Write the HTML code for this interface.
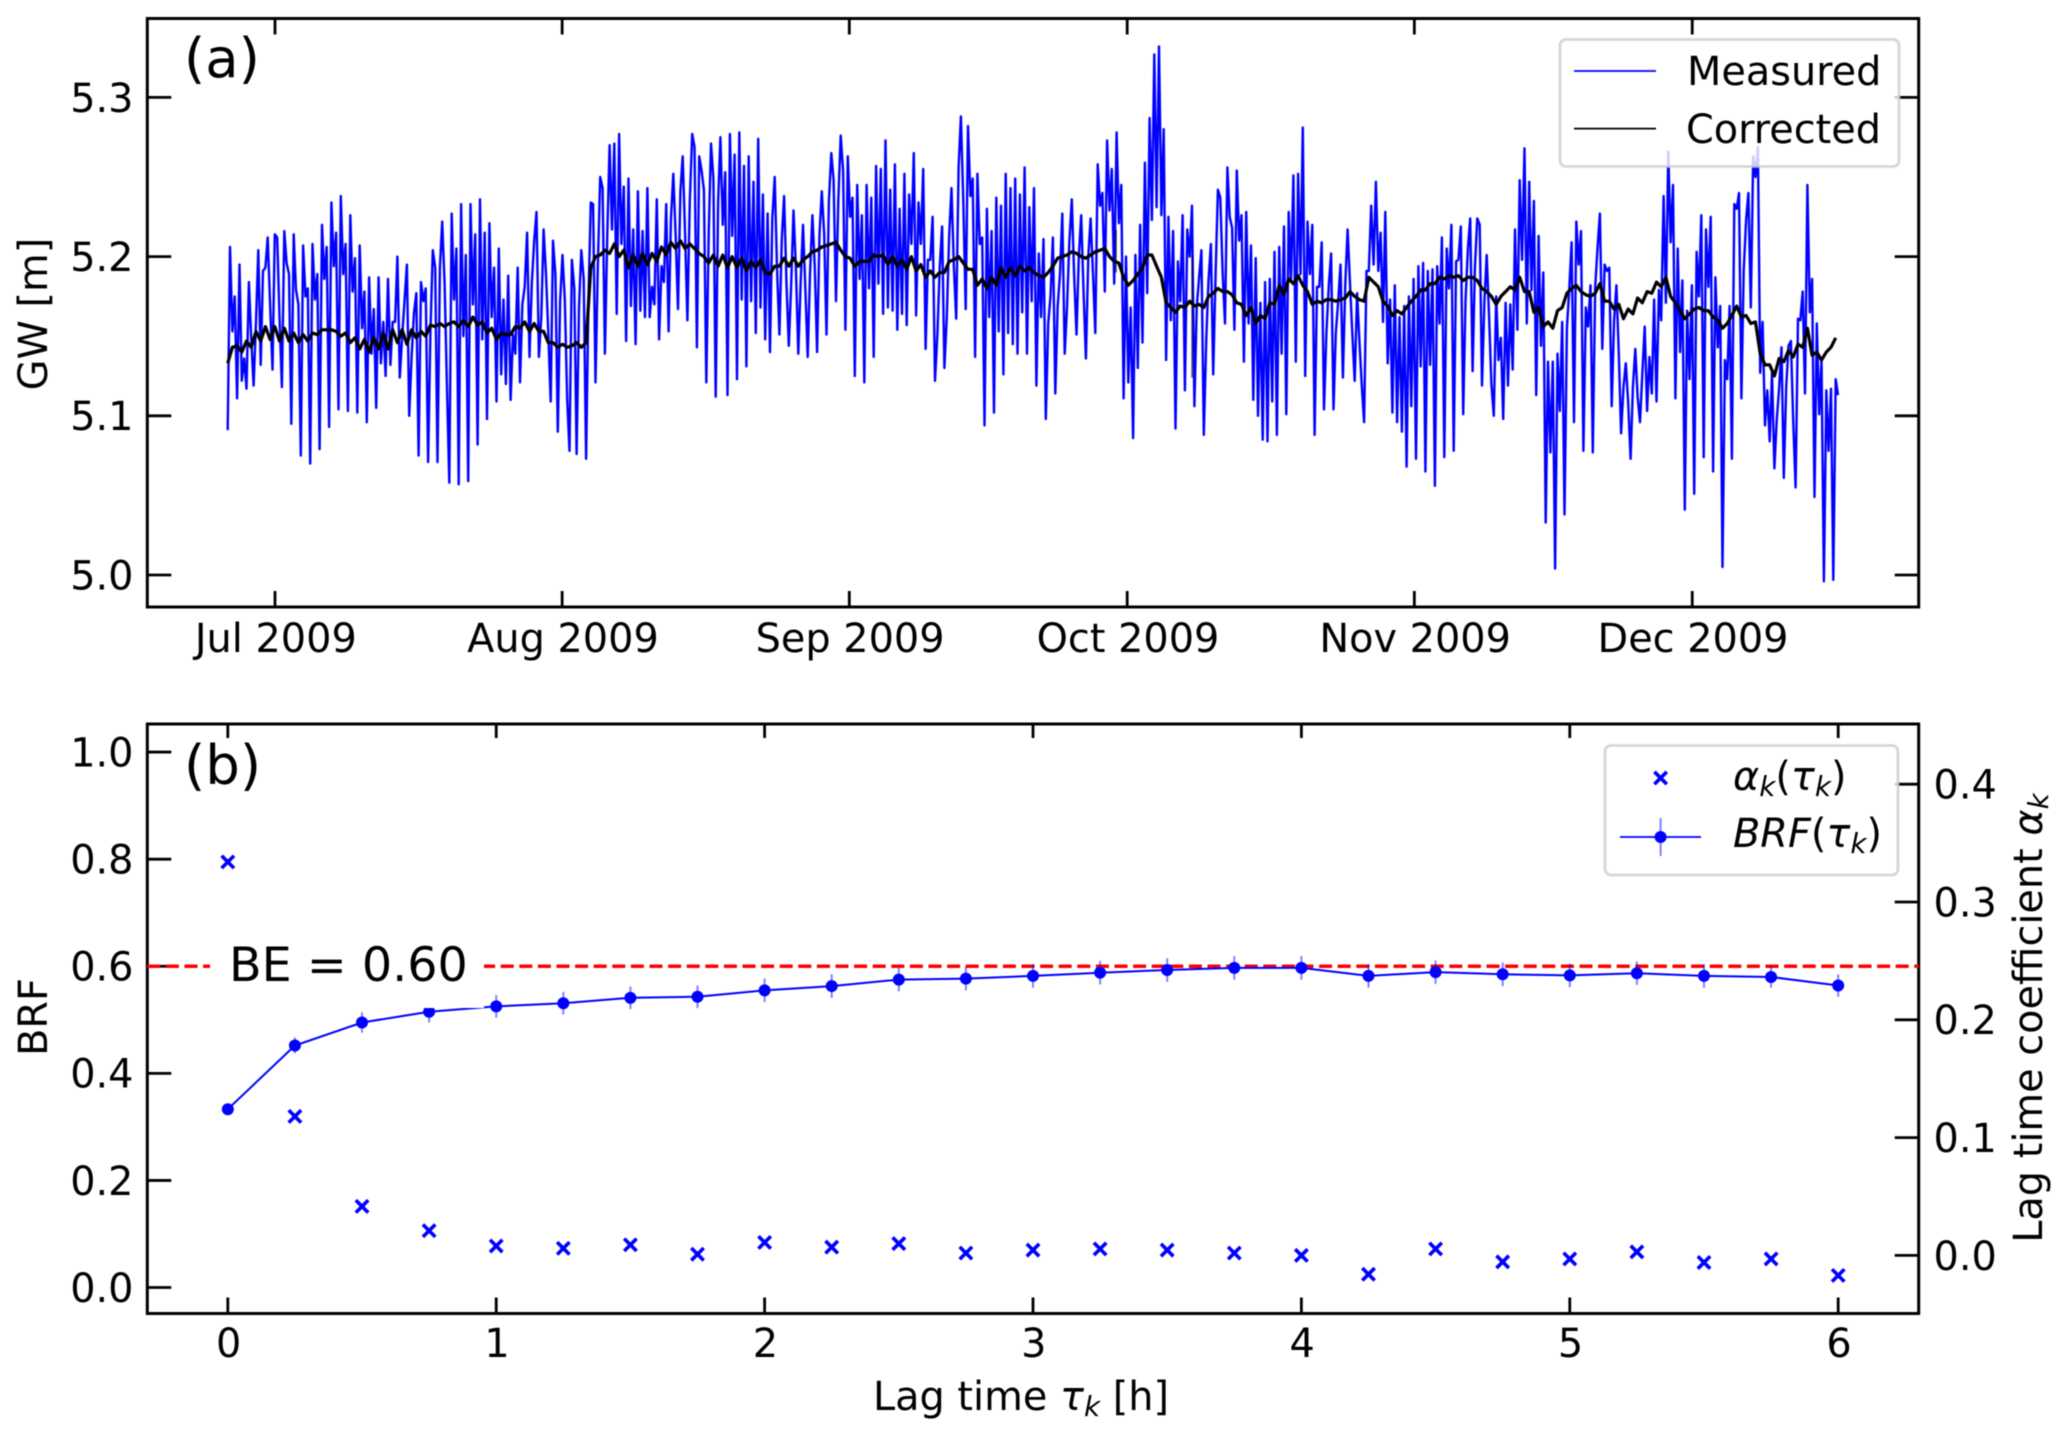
<!DOCTYPE html>
<html lang="en">
<head>
<meta charset="utf-8">
<title>Groundwater level and barometric response function</title>
<style>
html,body{margin:0;padding:0;background:#fff;}
svg{display:block;filter:blur(0.5px);}
text{font-family:"DejaVu Sans","Liberation Sans",sans-serif;fill:#000;}
</style>
</head>
<body>
<svg id="figure" xmlns="http://www.w3.org/2000/svg" width="2067" height="1438" viewBox="0 0 2067 1438"></svg>
<script>
// ---- Panel (a) data: groundwater level, millimetres above 5 m, one sample per step ----
const startDay = -5.11;            // days relative to 1 Jul 2009
const measuredStepDays = 0.25454;
const measuredMm = [
91,206,153,175,111,195,122,136,117,184,149,119,159,204,132,191,193,212,170,129,
214,212,162,118,216,196,189,95,214,179,170,75,207,175,180,70,208,173,189,79,
220,186,206,93,234,194,215,104,238,189,208,103,226,178,199,102,207,155,178,96,
187,139,167,105,187,133,159,125,186,132,159,159,200,124,149,172,195,100,137,164,
177,75,184,172,180,71,152,204,193,71,193,222,183,120,58,227,173,205,57,233,
150,201,59,233,170,214,82,236,148,215,98,221,162,193,109,205,126,173,120,188,
110,151,139,193,121,170,181,215,137,183,210,228,137,162,217,189,152,109,210,189,
90,172,201,173,110,78,198,180,76,168,204,186,73,172,234,233,121,193,250,243,
139,214,270,217,271,164,277,208,244,147,249,169,217,145,241,166,216,162,243,162,
181,170,236,148,194,184,233,153,223,252,214,167,241,263,214,160,235,277,269,143,
263,254,242,121,214,271,249,112,234,275,220,253,113,277,213,264,123,278,173,257,
131,263,172,247,152,274,168,239,148,227,140,224,250,193,151,211,238,183,144,183,
229,193,139,183,220,181,137,189,226,193,140,214,241,214,151,235,265,248,172,235,
276,254,154,263,225,237,125,245,186,226,121,245,180,237,137,257,183,255,164,273,
168,242,166,258,154,230,164,252,157,239,208,265,163,234,208,255,142,198,198,225,
122,151,193,219,130,162,214,243,193,161,256,288,235,167,282,238,249,137,252,208,
212,94,230,162,216,102,237,153,232,126,252,152,243,145,249,139,239,165,256,139,
231,172,243,119,202,162,211,98,158,175,212,114,168,189,227,139,168,210,236,189,
151,200,226,179,136,200,224,189,152,258,232,240,178,273,229,255,183,278,221,245,
111,200,121,168,86,201,130,220,146,259,177,287,223,327,231,332,226,280,135,225,
160,216,92,197,172,226,116,217,200,232,106,168,187,204,88,147,185,208,126,189,
242,237,189,158,256,225,218,154,254,210,226,134,228,158,207,110,199,100,171,85,
184,84,186,109,203,88,206,139,219,101,228,185,251,134,252,189,281,125,222,189,
220,88,181,181,209,104,152,182,202,104,152,172,195,124,183,217,183,152,122,177,
147,119,96,191,191,232,195,247,191,215,159,228,133,173,102,182,96,162,90,169,
68,175,106,186,73,194,131,196,65,191,132,192,56,194,158,212,74,205,180,220,
78,197,198,219,101,172,205,224,128,193,224,220,119,172,201,162,120,100,175,135,
149,98,171,119,170,129,217,154,248,198,268,158,247,179,235,113,213,144,190,33,
134,77,134,4,139,103,159,38,155,180,209,96,222,195,216,78,168,156,182,77,
181,206,227,142,195,191,193,106,160,182,139,89,118,133,108,73,118,142,112,96,
126,156,103,137,114,173,109,179,160,238,171,266,209,245,111,205,140,185,41,166,
123,182,51,203,175,226,74,217,181,225,65,187,143,169,5,135,123,169,73,233,
230,240,111,191,223,240,168,263,250,269,127,159,94,116,84,127,67,97,117,143,
61,118,144,147,97,55,161,160,178,114,245,165,186,49,158,101,135,-4,116,78,
117,-3,123,113
];
const correctedStepDays = 0.50908;
const correctedMm = [
133,143,144,140,147,143,153,147,156,148,156,147,155,147,152,146,151,147,152,151,
154,154,154,153,150,152,146,149,142,148,140,149,142,152,142,154,146,154,145,154,
149,153,150,157,156,158,156,158,159,156,160,156,162,157,159,152,155,148,152,151,
151,156,155,159,153,158,153,153,146,146,143,145,143,144,146,143,146,193,200,201,
204,202,208,200,204,193,201,194,202,195,202,197,206,201,209,205,210,205,208,205,
202,200,196,201,194,201,193,200,193,199,191,197,193,198,190,189,194,194,199,194,
199,194,198,200,203,204,206,207,208,209,204,200,199,194,197,197,197,201,200,201,
195,200,194,198,192,200,191,195,187,191,187,190,190,197,198,200,196,192,192,182,
186,180,187,182,193,187,193,188,194,191,193,190,188,187,190,194,199,200,201,203,
202,200,199,201,203,204,205,200,197,196,187,182,185,189,193,201,201,194,187,171,
168,165,169,168,172,169,170,168,175,177,180,178,178,176,171,170,163,168,158,163,
161,171,170,182,176,186,183,188,182,178,170,172,171,173,173,172,173,174,178,175,
173,172,187,184,181,172,169,163,166,164,168,172,175,179,179,183,183,187,186,188,
187,188,185,187,187,185,180,178,175,170,175,178,181,179,187,178,178,165,168,156,
159,155,166,168,177,180,182,178,176,175,177,183,172,172,167,170,161,167,164,174,
171,178,177,184,181,187,175,171,166,161,164,167,168,166,166,162,160,155,158,163,
169,162,163,158,159,139,132,132,125,136,134,141,137,145,143,155,138,140,135,140,
143,149
];
const correctedSpikeDays = [90.8, 99.0];
const correctedSpikeHighMm = [217, 201];
const correctedSpikeLowMm = [190, 124];
const monthTickDays = [0, 31, 62, 92, 123, 153];
const monthTickLabels = ["Jul 2009", "Aug 2009", "Sep 2009", "Oct 2009", "Nov 2009", "Dec 2009"];
const gwTicks = [5.0, 5.1, 5.2, 5.3];
const gwTickLabels = ["5.0", "5.1", "5.2", "5.3"];

// ---- Panel (b) data ----
const lagHours = [0,0.25,0.5,0.75,1,1.25,1.5,1.75,2,2.25,2.5,2.75,3,3.25,3.5,3.75,4,4.25,4.5,4.75,5,5.25,5.5,5.75,6];
const alphaValues = [0.334,0.118,0.0416,0.021,0.008,0.006,0.009,0.001,0.011,0.007,0.010,0.002,0.0045,0.0055,0.0045,0.002,0,-0.016,0.0055,-0.0055,-0.003,0.003,-0.006,-0.003,-0.017];
const brfValues = [0.333,0.452,0.495,0.515,0.525,0.531,0.541,0.543,0.555,0.563,0.575,0.577,0.582,0.588,0.593,0.597,0.597,0.582,0.589,0.585,0.583,0.587,0.582,0.580,0.564];
const brfErrors = [0.006,0.015,0.019,0.020,0.021,0.021,0.021,0.021,0.022,0.022,0.022,0.022,0.022,0.022,0.022,0.022,0.022,0.022,0.022,0.022,0.022,0.022,0.022,0.020,0.021];
const bodyEfficiency = 0.60;
const lagTicks = [0, 1, 2, 3, 4, 5, 6];
const lagTickLabels = ["0", "1", "2", "3", "4", "5", "6"];
const brfTicks = [0, 0.2, 0.4, 0.6, 0.8, 1.0];
const brfTickLabels = ["0.0", "0.2", "0.4", "0.6", "0.8", "1.0"];
const alphaTicks = [0, 0.1, 0.2, 0.3, 0.4];
const alphaTickLabels = ["0.0", "0.1", "0.2", "0.3", "0.4"];

// ---- Layout and scales ----
const svgNS = "http://www.w3.org/2000/svg";
const root = document.getElementById("figure");
const L = 147.3, R = 1918.7, aTop = 18.5, aBot = 607, bTop = 724, bBot = 1313.5;
const TICK = 24, XTICK = 16, FS = 39.8, BLUE = "#0000ff";
const xDay = d => 275 + 9.263 * d;
const yGw = v => 575 - (v - 5) * 1592;
const xLag = v => L + (v + 0.3) * (R - L) / 6.6;
const yBrf = v => 1314.3 - (v + 0.05) * 535.45;
const yAlpha = v => 1314.3 - (v + 0.05) * 1178;

function mk(parent, tag, attrs, content) {
  const el = document.createElementNS(svgNS, tag);
  for (const k in attrs) el.setAttribute(k, attrs[k]);
  if (content !== undefined) el.textContent = content;
  parent.appendChild(el);
  return el;
}
function group(name) {
  const g = mk(root, "g", {});
  
  
  return g;
}
function tick(parent, name, x1, y1, x2, y2) {
  const el = mk(parent, "line", {x1, y1, x2, y2, stroke: "#000", "stroke-width": 2.8});
  
  
}
function label(parent, name, x, y, anchor, str) {
  const el = mk(parent, "text", {x, y, "text-anchor": anchor, "font-size": FS}, str);
  
  
  return el;
}
function addRuns(textEl, runs) {
  runs.forEach(r => {
    const t = mk(textEl, "tspan", {}, r.t);
    if (r.i) t.setAttribute("font-style", "italic");
    if (r.sub) { t.setAttribute("font-size", FS * 0.7); t.setAttribute("dy", 6); }
    if (r.up) t.setAttribute("dy", -6);
  });
}

// ---- Panel (a) ----
const panelA = group("panel-a-groundwater");

const measuredPts = measuredMm.map((m, i) => xDay(startDay + i * measuredStepDays).toFixed(1) + "," + yGw(5 + m / 1000).toFixed(1)).join(" ");
const measuredLine = mk(panelA, "polyline", {points: measuredPts, fill: "none", stroke: BLUE, "stroke-width": 2.4, "stroke-linejoin": "round"});



const correctedPts = correctedMm.map((m, i) => xDay(startDay + i * correctedStepDays).toFixed(1) + "," + yGw(5 + m / 1000).toFixed(1)).join(" ");
const correctedLine = mk(panelA, "polyline", {points: correctedPts, fill: "none", stroke: "#000", "stroke-width": 3.2, "stroke-linejoin": "round"});



correctedSpikeDays.forEach((d, i) => {
  const s = mk(panelA, "line", {x1: xDay(d), x2: xDay(d), y1: yGw(5 + correctedSpikeHighMm[i] / 1000), y2: yGw(5 + correctedSpikeLowMm[i] / 1000), stroke: "#000", "stroke-opacity": 0.7, "stroke-width": 1.4});
  
  
});

const frameA = mk(panelA, "rect", {x: L, y: aTop, width: R - L, height: aBot - aTop, fill: "none", stroke: "#000", "stroke-width": 3});



monthTickDays.forEach((d, i) => {
  const x = xDay(d);
  tick(panelA, "x-tick-bottom", x, aBot, x, aBot - XTICK);
  tick(panelA, "x-tick-top", x, aTop, x, aTop + XTICK);
  label(panelA, "x-tick-label", x + 0.8, 652, "middle", monthTickLabels[i]);
});
gwTicks.forEach((v, i) => {
  const y = yGw(v);
  tick(panelA, "y-tick-left", L, y, L + TICK, y);
  tick(panelA, "y-tick-right", R, y, R - TICK, y);
  label(panelA, "y-tick-label", 133.5, y + 14.4, "end", gwTickLabels[i]);
});

const gwTitle = label(panelA, "y-axis-title", 0, 0, "middle", "GW [m]");
gwTitle.setAttribute("transform", "translate(47,314) rotate(-90)");

const tagA = mk(panelA, "text", {x: 184, y: 77, "font-size": 54.5}, "(a)");



const legendA = mk(panelA, "g", {});


const legendABox = mk(legendA, "rect", {x: 1560, y: 39.5, width: 339, height: 127, rx: 6, fill: "rgba(255,255,255,0.8)", stroke: "rgba(204,204,204,0.8)", "stroke-width": 2.8});


const legendMeasuredLine = mk(legendA, "line", {x1: 1574, x2: 1656, y1: 71, y2: 71, stroke: BLUE, "stroke-width": 1.8});


label(legendA, "legend-measured-label", 1687, 85, "start", "Measured");
const legendCorrectedLine = mk(legendA, "line", {x1: 1574, x2: 1656, y1: 128.6, y2: 128.6, stroke: "#000", "stroke-width": 1.8});


label(legendA, "legend-corrected-label", 1686, 143, "start", "Corrected");

// ---- Panel (b) ----
const panelB = group("panel-b-brf");

function drawCross(parent, cx, cy, name) {
  const r = 6.2;
  const p = mk(parent, "path", {d: `M${cx - r} ${cy - r}L${cx + r} ${cy + r}M${cx - r} ${cy + r}L${cx + r} ${cy - r}`, stroke: BLUE, "stroke-width": 3.6, fill: "none"});
  
  
}

const frameB = mk(panelB, "rect", {x: L, y: bTop, width: R - L, height: bBot - bTop, fill: "none", stroke: "#000", "stroke-width": 3});



lagTicks.forEach((v, i) => {
  const x = xLag(v);
  tick(panelB, "lag-tick-bottom", x, bBot, x, bBot - XTICK);
  tick(panelB, "lag-tick-top", x, bTop, x, bTop + XTICK - 2);
  label(panelB, "lag-tick-label", x + 0.8, 1357, "middle", lagTickLabels[i]);
});
brfTicks.forEach((v, i) => {
  const y = yBrf(v);
  tick(panelB, "brf-tick", L, y, L + TICK, y);
  label(panelB, "brf-tick-label", 133.5, y + 14.4, "end", brfTickLabels[i]);
});
alphaTicks.forEach((v, i) => {
  const y = yAlpha(v);
  tick(panelB, "alpha-tick", R, y, R - TICK, y);
  label(panelB, "alpha-tick-label", 1933.5, y + 14.4, "start", alphaTickLabels[i]);
});

const beLine = mk(panelB, "line", {x1: L, x2: R, y1: yBrf(bodyEfficiency), y2: yBrf(bodyEfficiency), stroke: "#ff0000", "stroke-width": 3.6, "stroke-dasharray": "13 5.6"});



const brfPts = lagHours.map((h, i) => xLag(h).toFixed(1) + "," + yBrf(brfValues[i]).toFixed(1)).join(" ");
const brfLine = mk(panelB, "polyline", {points: brfPts, fill: "none", stroke: BLUE, "stroke-width": 2});



lagHours.forEach((h, i) => {
  const x = xLag(h);
  const err = mk(panelB, "line", {x1: x, x2: x, y1: yBrf(brfValues[i] - brfErrors[i]), y2: yBrf(brfValues[i] + brfErrors[i]), stroke: BLUE, "stroke-opacity": 0.5, "stroke-width": 2});
  
  
  const dot = mk(panelB, "circle", {cx: x, cy: yBrf(brfValues[i]), r: 6, fill: BLUE});
  
  
  drawCross(panelB, x, yAlpha(alphaValues[i]), "alpha-point");
});

const beBox = mk(panelB, "rect", {x: 210, y: 924, width: 274, height: 84, fill: "#fff"});


const beText = mk(panelB, "text", {x: 229, y: 981, "font-size": 47.6}, "BE = 0.60");



const lagTitle = label(panelB, "x-axis-title", 1021, 1410, "middle", "");
addRuns(lagTitle, [{t: "Lag time "}, {t: "τ", i: 1}, {t: "k", i: 1, sub: 1}, {t: " [h]", up: 1}]);

const brfTitle = label(panelB, "y-axis-title-left", 0, 0, "middle", "BRF");
brfTitle.setAttribute("transform", "translate(47,1017) rotate(-90)");

const alphaTitle = label(panelB, "y-axis-title-right", 0, 0, "middle", "");
alphaTitle.setAttribute("transform", "translate(2042,1018) rotate(-90)");
addRuns(alphaTitle, [{t: "Lag time coefficient "}, {t: "α", i: 1}, {t: "k", i: 1, sub: 1}]);

const tagB = mk(panelB, "text", {x: 184, y: 784, "font-size": 54.5}, "(b)");



const legendB = mk(panelB, "g", {});


const legendBBox = mk(legendB, "rect", {x: 1605, y: 745.5, width: 293, height: 129.5, rx: 6, fill: "rgba(255,255,255,0.8)", stroke: "rgba(204,204,204,0.8)", "stroke-width": 2.8});


drawCross(legendB, 1660.6, 778, "legend-alpha-marker");
const legendAlphaText = label(legendB, "legend-alpha-label", 1733, 790, "start", "");
addRuns(legendAlphaText, [{t: "α", i: 1}, {t: "k", i: 1, sub: 1}, {t: "(", up: 1}, {t: "τ", i: 1}, {t: "k", i: 1, sub: 1}, {t: ")", up: 1}]);
const legendBrfLine = mk(legendB, "line", {x1: 1620, x2: 1701, y1: 837, y2: 837, stroke: BLUE, "stroke-width": 1.8});


const legendBrfErr = mk(legendB, "line", {x1: 1660.6, x2: 1660.6, y1: 818, y2: 856, stroke: BLUE, "stroke-opacity": 0.5, "stroke-width": 2});


const legendBrfDot = mk(legendB, "circle", {cx: 1660.6, cy: 837, r: 6, fill: BLUE});


const legendBrfText = label(legendB, "legend-brf-label", 1733, 847, "start", "");
addRuns(legendBrfText, [{t: "BRF", i: 1}, {t: "("}, {t: "τ", i: 1}, {t: "k", i: 1, sub: 1}, {t: ")", up: 1}]);
</script>
</body>
</html>
